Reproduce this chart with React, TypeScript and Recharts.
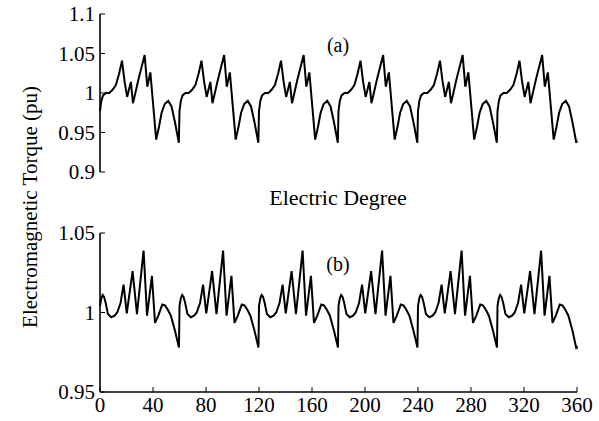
import React from 'react';
import { LineChart, Line, XAxis, YAxis } from 'recharts';

const degreeTicks = [0, 40, 80, 120, 160, 200, 240, 280, 320, 360];
const torqueTicksA = [0.9, 0.95, 1, 1.05, 1.1];
const torqueTicksB = [0.95, 1, 1.05];

const degA = [
  0, 1, 2.3, 4.5, 7, 9.5, 12, 14.5, 16.6, 18.5, 20.5, 23.3, 24.9, 29, 33.7, 35.7, 38, 42.4, 44.5, 46.5, 48.8, 51.5, 54, 56.7, 59.5,
  60, 61, 62.3, 64.5, 67, 69.5, 72, 74.5, 76.6, 78.5, 80.5, 83.3, 84.9, 89, 93.7, 95.7, 98, 102.4, 104.5, 106.5, 108.8, 111.5, 114, 116.7, 119.5,
  120, 121, 122.3, 124.5, 127, 129.5, 132, 134.5, 136.6, 138.5, 140.5, 143.3, 144.9, 149, 153.7, 155.7, 158, 162.4, 164.5, 166.5, 168.8, 171.5, 174, 176.7, 179.5,
  180, 181, 182.3, 184.5, 187, 189.5, 192, 194.5, 196.6, 198.5, 200.5, 203.3, 204.9, 209, 213.7, 215.7, 218, 222.4, 224.5, 226.5, 228.8, 231.5, 234, 236.7, 239.5,
  240, 241, 242.3, 244.5, 247, 249.5, 252, 254.5, 256.6, 258.5, 260.5, 263.3, 264.9, 269, 273.7, 275.7, 278, 282.4, 284.5, 286.5, 288.8, 291.5, 294, 296.7, 299.5,
  300, 301, 302.3, 304.5, 307, 309.5, 312, 314.5, 316.6, 318.5, 320.5, 323.3, 324.9, 329, 333.7, 335.7, 338, 342.4, 344.5, 346.5, 348.8, 351.5, 354, 356.7, 359.5,
  360,
];
const torqueA = [
  0.977, 0.99, 0.997, 1.0, 1.0, 1.004, 1.01, 1.025, 1.041, 1.015, 0.995, 1.014, 0.987, 1.017, 1.048, 1.008, 1.026, 0.941, 0.957, 0.975, 0.986, 0.99, 0.983, 0.962, 0.937,
  0.977, 0.99, 0.997, 1.0, 1.0, 1.004, 1.01, 1.025, 1.041, 1.015, 0.995, 1.014, 0.987, 1.017, 1.048, 1.008, 1.026, 0.941, 0.957, 0.975, 0.986, 0.99, 0.983, 0.962, 0.937,
  0.977, 0.99, 0.997, 1.0, 1.0, 1.004, 1.01, 1.025, 1.041, 1.015, 0.995, 1.014, 0.987, 1.017, 1.048, 1.008, 1.026, 0.941, 0.957, 0.975, 0.986, 0.99, 0.983, 0.962, 0.937,
  0.977, 0.99, 0.997, 1.0, 1.0, 1.004, 1.01, 1.025, 1.041, 1.015, 0.995, 1.014, 0.987, 1.017, 1.048, 1.008, 1.026, 0.941, 0.957, 0.975, 0.986, 0.99, 0.983, 0.962, 0.937,
  0.977, 0.99, 0.997, 1.0, 1.0, 1.004, 1.01, 1.025, 1.041, 1.015, 0.995, 1.014, 0.987, 1.017, 1.048, 1.008, 1.026, 0.941, 0.957, 0.975, 0.986, 0.99, 0.983, 0.962, 0.937,
  0.977, 0.99, 0.997, 1.0, 1.0, 1.004, 1.01, 1.025, 1.041, 1.015, 0.995, 1.014, 0.987, 1.017, 1.048, 1.008, 1.026, 0.941, 0.957, 0.975, 0.986, 0.99, 0.983, 0.962, 0.937,
  0.94,
];

const degB = [
  0, 1, 2, 3, 4.3, 6, 8.5, 11, 13, 15.5, 17.8, 20.2, 24.6, 27.9, 32.9, 35.5, 39.2, 41.5, 44, 47, 49, 51, 53.5, 56.6, 59.6,
  60, 61, 62, 63, 64.3, 66, 68.5, 71, 73, 75.5, 77.8, 80.2, 84.6, 87.9, 92.9, 95.5, 99.2, 101.5, 104, 107, 109, 111, 113.5, 116.6, 119.6,
  120, 121, 122, 123, 124.3, 126, 128.5, 131, 133, 135.5, 137.8, 140.2, 144.6, 147.9, 152.9, 155.5, 159.2, 161.5, 164, 167, 169, 171, 173.5, 176.6, 179.6,
  180, 181, 182, 183, 184.3, 186, 188.5, 191, 193, 195.5, 197.8, 200.2, 204.6, 207.9, 212.9, 215.5, 219.2, 221.5, 224, 227, 229, 231, 233.5, 236.6, 239.6,
  240, 241, 242, 243, 244.3, 246, 248.5, 251, 253, 255.5, 257.8, 260.2, 264.6, 267.9, 272.9, 275.5, 279.2, 281.5, 284, 287, 289, 291, 293.5, 296.6, 299.6,
  300, 301, 302, 303, 304.3, 306, 308.5, 311, 313, 315.5, 317.8, 320.2, 324.6, 327.9, 332.9, 335.5, 339.2, 341.5, 344, 347, 349, 351, 353.5, 356.6, 359.6,
  360,
];
const torqueB = [
  1.004, 1.009, 1.011, 1.01, 1.006, 0.999, 0.997, 0.998, 1.0, 1.006, 1.0175, 0.9995, 1.026, 0.999, 1.039, 0.998, 1.023, 0.9935, 0.998, 1.005, 1.0045, 1.002, 0.998, 0.9885, 0.978,
  1.004, 1.009, 1.011, 1.01, 1.006, 0.999, 0.997, 0.998, 1.0, 1.006, 1.0175, 0.9995, 1.026, 0.999, 1.039, 0.998, 1.023, 0.9935, 0.998, 1.005, 1.0045, 1.002, 0.998, 0.9885, 0.978,
  1.004, 1.009, 1.011, 1.01, 1.006, 0.999, 0.997, 0.998, 1.0, 1.006, 1.0175, 0.9995, 1.026, 0.999, 1.039, 0.998, 1.023, 0.9935, 0.998, 1.005, 1.0045, 1.002, 0.998, 0.9885, 0.978,
  1.004, 1.009, 1.011, 1.01, 1.006, 0.999, 0.997, 0.998, 1.0, 1.006, 1.0175, 0.9995, 1.026, 0.999, 1.039, 0.998, 1.023, 0.9935, 0.998, 1.005, 1.0045, 1.002, 0.998, 0.9885, 0.978,
  1.004, 1.009, 1.011, 1.01, 1.006, 0.999, 0.997, 0.998, 1.0, 1.006, 1.0175, 0.9995, 1.026, 0.999, 1.039, 0.998, 1.023, 0.9935, 0.998, 1.005, 1.0045, 1.002, 0.998, 0.9885, 0.978,
  1.004, 1.009, 1.011, 1.01, 1.006, 0.999, 0.997, 0.998, 1.0, 1.006, 1.0175, 0.9995, 1.026, 0.999, 1.039, 0.998, 1.023, 0.9935, 0.998, 1.005, 1.0045, 1.002, 0.998, 0.9885, 0.977,
  0.979,
];

const dataA = degA.map((d, i) => ({ deg: d, torque: torqueA[i] }));
const dataB = degB.map((d, i) => ({ deg: d, torque: torqueB[i] }));

const FONT = 'Liberation Serif, Times New Roman, serif';
const tickStyle = { fontFamily: FONT, fontSize: 21, fill: '#000' };
const axisLine = { stroke: '#000', strokeWidth: 1.6 };
const tickLine = { stroke: '#000', strokeWidth: 1 };

function Panel({ data, yDomain, yTicks, showXLabels, height, margin, xHeight }: any) {
  return (
    <LineChart width={599} height={height} data={data} margin={margin}>
      <XAxis
        xAxisId="bottom"
        dataKey="deg"
        type="number"
        domain={[0, 360]}
        ticks={degreeTicks}
        interval={0}
        orientation="bottom"
        height={xHeight}
        tickSize={-5}
        tickMargin={showXLabels ? 10 : 0}
        tick={showXLabels ? tickStyle : false}
        axisLine={axisLine}
        tickLine={tickLine}
      />
      <XAxis
        xAxisId="top"
        dataKey="deg"
        type="number"
        domain={[0, 360]}
        ticks={degreeTicks}
        interval={0}
        orientation="top"
        height={0}
        tickSize={-5}
        tick={false}
        axisLine={axisLine}
        tickLine={tickLine}
      />
      <YAxis
        yAxisId="left"
        type="number"
        domain={yDomain}
        ticks={yTicks}
        interval={0}
        width={60}
        tickSize={-5}
        tickMargin={10}
        tick={tickStyle}
        axisLine={axisLine}
        tickLine={tickLine}
        allowDataOverflow
      />
      <YAxis
        yAxisId="right"
        orientation="right"
        type="number"
        domain={yDomain}
        ticks={yTicks}
        interval={0}
        width={0}
        tickSize={-5}
        tick={false}
        axisLine={axisLine}
        tickLine={tickLine}
        allowDataOverflow
      />
      <Line
        xAxisId="bottom"
        yAxisId="left"
        dataKey="torque"
        type="linear"
        stroke="#000"
        strokeWidth={2}
        dot={false}
        isAnimationActive={false}
      />
    </LineChart>
  );
}

export default function App() {
  return (
    <div style={{ position: 'absolute', left: 0, top: 0, width: 599, height: 421, background: '#fff' }}>
      <div style={{ position: 'absolute', left: 0, top: 0 }}>
        <Panel
          data={dataA}
          yDomain={[0.9, 1.1]}
          yTicks={torqueTicksA}
          showXLabels={false}
          height={200}
          xHeight={0}
          margin={{ top: 14, right: 22, bottom: 28, left: 40 }}
        />
      </div>
      <div style={{ position: 'absolute', left: 0, top: 200 }}>
        <Panel
          data={dataB}
          yDomain={[0.95, 1.05]}
          yTicks={torqueTicksB}
          showXLabels={true}
          height={221}
          xHeight={25}
          margin={{ top: 33, right: 22, bottom: 4, left: 40 }}
        />
      </div>
      <svg
        width={599}
        height={421}
        style={{ position: 'absolute', left: 0, top: 0, pointerEvents: 'none' }}
      >
        <text x={338} y={52} textAnchor="middle" fontFamily={FONT} fontSize={20} fill="#000">(a)</text>
        <text x={338} y={205} textAnchor="middle" fontFamily={FONT} fontSize={22} fill="#000">Electric Degree</text>
        <text x={338} y={271} textAnchor="middle" fontFamily={FONT} fontSize={20} fill="#000">(b)</text>
        <text
          x={30}
          y={207}
          textAnchor="middle"
          dominantBaseline="central"
          fontFamily={FONT}
          fontSize={21}
          fill="#000"
          transform="rotate(-90, 30, 207)"
        >
          Electromagnetic Torque (pu)
        </text>
      </svg>
    </div>
  );
}
